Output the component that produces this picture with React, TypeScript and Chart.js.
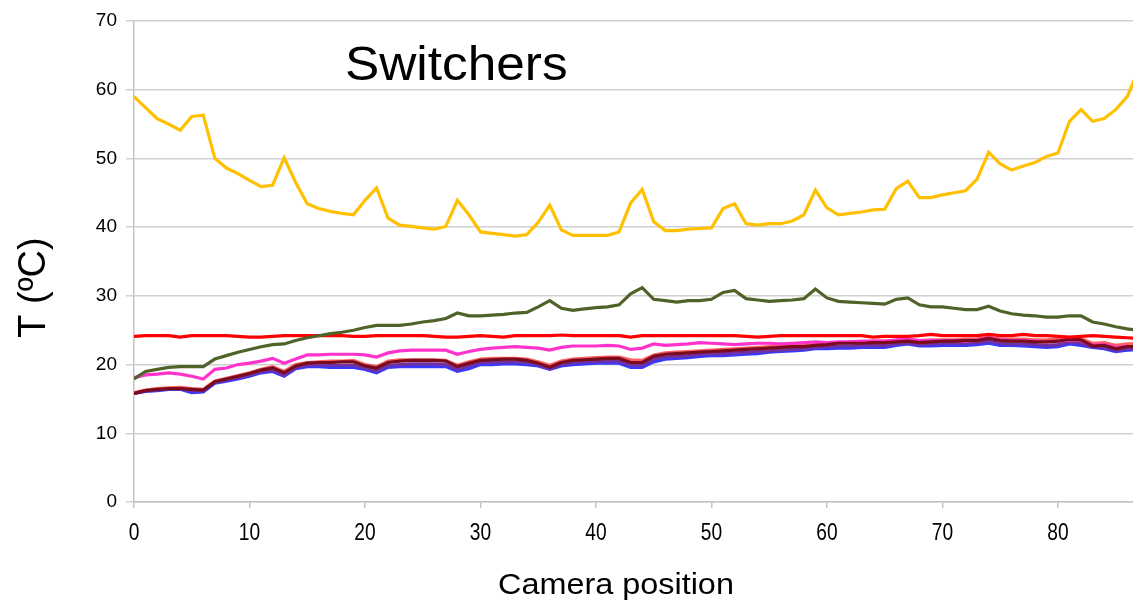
import React, { useEffect, useRef } from "react";
import { Chart, registerables } from "chart.js";

Chart.register(...registerables);

const POSITIONS = [
  0, 1, 2, 3, 4, 5, 6, 7, 8, 9, 10, 11, 12, 13, 14, 15, 16, 17, 18, 19,
  20, 21, 22, 23, 24, 25, 26, 27, 28, 29, 30, 31, 32, 33, 34, 35, 36, 37, 38, 39,
  40, 41, 42, 43, 44, 45, 46, 47, 48, 49, 50, 51, 52, 53, 54, 55, 56, 57, 58, 59,
  60, 61, 62, 63, 64, 65, 66, 67, 68, 69, 70, 71, 72, 73, 74, 75, 76, 77, 78, 79,
  80, 81, 82, 83, 84, 85, 86, 87,
];

const X_TICKS = [0, 10, 20, 30, 40, 50, 60, 70, 80];
const Y_TICKS = [0, 10, 20, 30, 40, 50, 60, 70];

const YELLOW = [
  59.0, 57.4, 55.8, 55.0, 54.1, 56.1, 56.3, 50.0, 48.6, 47.8,
  46.8, 45.9, 46.1, 50.1, 46.5, 43.4, 42.7, 42.3, 42.0, 41.8,
  43.9, 45.7, 41.3, 40.3, 40.1, 39.9, 39.7, 40.1, 43.9, 41.8,
  39.3, 39.1, 38.9, 38.7, 38.9, 40.7, 43.2, 39.6, 38.8, 38.8,
  38.8, 38.8, 39.3, 43.5, 45.5, 40.8, 39.5, 39.5, 39.7, 39.8,
  39.9, 42.7, 43.4, 40.5, 40.3, 40.5, 40.5, 40.9, 41.8, 45.4,
  42.8, 41.8, 42.0, 42.2, 42.5, 42.6, 45.6, 46.7, 44.3, 44.3,
  44.7, 45.0, 45.3, 47.0, 50.9, 49.2, 48.3, 48.9, 49.4, 50.3,
  50.8, 55.4, 57.1, 55.4, 55.8, 57.1, 59.0, 63.0,
];

const GREEN = [
  17.9, 19.0, 19.3, 19.6, 19.7, 19.7, 19.7, 20.8, 21.3, 21.8,
  22.2, 22.6, 22.9, 23.0, 23.5, 23.9, 24.2, 24.5, 24.7, 25.0,
  25.4, 25.7, 25.7, 25.7, 25.9, 26.2, 26.4, 26.7, 27.5, 27.1,
  27.1, 27.2, 27.3, 27.5, 27.6, 28.4, 29.3, 28.2, 27.9, 28.1,
  28.3, 28.4, 28.7, 30.3, 31.2, 29.5, 29.3, 29.1, 29.3, 29.3,
  29.5, 30.5, 30.8, 29.6, 29.4, 29.2, 29.3, 29.4, 29.6, 31.0,
  29.7, 29.2, 29.1, 29.0, 28.9, 28.8, 29.5, 29.7, 28.7, 28.4,
  28.4, 28.2, 28.0, 28.0, 28.5, 27.8, 27.4, 27.2, 27.1, 26.9,
  26.9, 27.1, 27.1, 26.2, 25.9, 25.5, 25.2, 25.0,
];

const RED = [
  24.1, 24.2, 24.2, 24.2, 24.0, 24.2, 24.2, 24.2, 24.2, 24.1,
  24.0, 24.0, 24.1, 24.2, 24.2, 24.2, 24.2, 24.2, 24.2, 24.1,
  24.1, 24.2, 24.2, 24.2, 24.2, 24.2, 24.1, 24.0, 24.0, 24.1,
  24.2, 24.1, 24.0, 24.2, 24.2, 24.2, 24.2, 24.3, 24.2, 24.2,
  24.2, 24.2, 24.2, 24.0, 24.2, 24.2, 24.2, 24.2, 24.2, 24.2,
  24.2, 24.2, 24.2, 24.1, 24.0, 24.1, 24.2, 24.2, 24.2, 24.2,
  24.2, 24.2, 24.2, 24.2, 24.0, 24.1, 24.1, 24.1, 24.2, 24.4,
  24.2, 24.2, 24.2, 24.2, 24.4, 24.2, 24.2, 24.4, 24.2, 24.2,
  24.1, 24.0, 24.1, 24.2, 24.1, 24.0, 23.9, 23.8,
];

const MAGENTA = [
  18.1, 18.5, 18.6, 18.8, 18.6, 18.3, 17.9, 19.3, 19.5, 20.0,
  20.2, 20.5, 20.9, 20.2, 20.8, 21.4, 21.4, 21.5, 21.5, 21.5,
  21.4, 21.1, 21.7, 22.0, 22.1, 22.1, 22.1, 22.1, 21.5, 21.9,
  22.2, 22.4, 22.5, 22.6, 22.5, 22.4, 22.1, 22.5, 22.7, 22.7,
  22.7, 22.8, 22.7, 22.2, 22.4, 23.0, 22.8, 22.9, 23.0, 23.2,
  23.1, 23.0, 22.9, 23.0, 23.1, 23.1, 23.0, 23.1, 23.2, 23.3,
  23.2, 23.3, 23.3, 23.4, 23.4, 23.4, 23.6, 23.7, 23.5, 23.5,
  23.5, 23.5, 23.4, 23.6, 23.9, 23.6, 23.5, 23.5, 23.4, 23.3,
  23.4, 23.6, 23.5, 22.8, 22.9, 22.5, 22.6, 22.6,
];

const MAROON = [
  15.8, 16.2, 16.4, 16.5, 16.5, 16.4, 16.3, 17.5, 17.9, 18.3,
  18.7, 19.2, 19.5, 18.8, 19.8, 20.2, 20.3, 20.3, 20.4, 20.4,
  19.8, 19.5, 20.3, 20.5, 20.6, 20.6, 20.6, 20.5, 19.7, 20.2,
  20.6, 20.7, 20.8, 20.8, 20.6, 20.2, 19.6, 20.3, 20.6, 20.7,
  20.8, 20.9, 20.9, 20.3, 20.3, 21.2, 21.5, 21.6, 21.7, 21.8,
  21.9, 22.0, 22.1, 22.2, 22.3, 22.4, 22.5, 22.6, 22.6, 22.8,
  22.9, 23.1, 23.1, 23.1, 23.2, 23.2, 23.3, 23.4, 23.2, 23.3,
  23.4, 23.4, 23.5, 23.5, 23.8, 23.5, 23.4, 23.4, 23.3, 23.3,
  23.4, 23.7, 23.6, 22.7, 22.8, 22.3, 22.6, 22.6,
];

const SALMON = [
  15.9, 16.3, 16.5, 16.6, 16.7, 16.5, 16.4, 17.6, 18.0, 18.4,
  18.8, 19.3, 19.7, 19.0, 20.0, 20.3, 20.4, 20.5, 20.5, 20.6,
  20.0, 19.7, 20.5, 20.7, 20.7, 20.7, 20.7, 20.6, 19.9, 20.4,
  20.8, 20.9, 20.9, 20.9, 20.8, 20.4, 19.9, 20.5, 20.8, 20.9,
  21.0, 21.1, 21.1, 20.7, 20.6, 21.4, 21.7, 21.8, 21.9, 22.0,
  22.1, 22.2, 22.3, 22.4, 22.5, 22.6, 22.7, 22.8, 22.8, 23.0,
  23.1, 23.2, 23.3, 23.3, 23.4, 23.4, 23.5, 23.6, 23.5, 23.6,
  23.6, 23.6, 23.7, 23.7, 24.0, 23.7, 23.7, 23.7, 23.6, 23.6,
  23.7, 23.9, 23.8, 23.1, 23.2, 22.8, 23.0, 23.0,
];

const PURPLE = [
  15.8, 16.2, 16.3, 16.5, 16.5, 16.2, 16.2, 17.4, 17.8, 18.1,
  18.5, 19.0, 19.2, 18.5, 19.6, 19.9, 20.0, 19.9, 19.9, 19.9,
  19.5, 19.1, 19.9, 20.0, 20.1, 20.1, 20.1, 20.0, 19.3, 19.8,
  20.3, 20.3, 20.4, 20.4, 20.3, 20.0, 19.4, 20.0, 20.3, 20.4,
  20.5, 20.5, 20.5, 19.9, 19.9, 20.8, 21.1, 21.2, 21.3, 21.5,
  21.6, 21.6, 21.7, 21.8, 21.9, 22.0, 22.1, 22.2, 22.3, 22.5,
  22.6, 22.7, 22.7, 22.8, 22.8, 22.8, 23.0, 23.2, 22.9, 23.0,
  23.1, 23.1, 23.1, 23.2, 23.4, 23.1, 23.0, 23.0, 22.9, 22.8,
  22.9, 23.3, 23.1, 22.6, 22.5, 22.1, 22.3, 22.4,
];

const BLUE = [
  15.8, 16.1, 16.2, 16.4, 16.4, 15.9, 16.0, 17.3, 17.6, 17.9,
  18.3, 18.8, 19.0, 18.3, 19.4, 19.7, 19.7, 19.6, 19.6, 19.6,
  19.3, 18.8, 19.6, 19.7, 19.7, 19.7, 19.7, 19.7, 19.0, 19.4,
  20.0, 20.0, 20.1, 20.1, 20.0, 19.8, 19.3, 19.8, 20.0, 20.1,
  20.2, 20.2, 20.2, 19.6, 19.6, 20.4, 20.8, 20.9, 21.0, 21.2,
  21.3, 21.3, 21.4, 21.5, 21.6, 21.8, 21.9, 22.0, 22.1, 22.3,
  22.3, 22.4, 22.4, 22.5, 22.5, 22.5, 22.8, 23.0, 22.7, 22.7,
  22.8, 22.8, 22.8, 22.9, 23.1, 22.8, 22.8, 22.7, 22.6, 22.5,
  22.6, 23.0, 22.8, 22.5, 22.3, 21.9, 22.1, 22.2,
];

const CHART_TITLE = "Switchers";
const Y_TITLE = "T (ºC)";
const X_TITLE = "Camera position";

const toPoints = (vals: number[]) => vals.map((v, i) => ({ x: POSITIONS[i], y: v }));

const textPlugin = {
  id: "texts",
  afterDraw(chart: any) {
    const ctx = chart.ctx as CanvasRenderingContext2D;
    ctx.save();
    ctx.fillStyle = "#000";
    ctx.textBaseline = "alphabetic";
    ctx.textAlign = "left";
    // Title inside plot
    ctx.save();
    ctx.translate(345, 80);
    ctx.scale(1.07, 1);
    ctx.font = '48px "Liberation Sans", Arial, sans-serif';
    ctx.fillText(CHART_TITLE, 0, 0);
    ctx.restore();
    // X title
    ctx.save();
    ctx.translate(498, 594);
    ctx.scale(1.08, 1);
    ctx.font = '30px "Liberation Sans", Arial, sans-serif';
    ctx.fillText(X_TITLE, 0, 0);
    ctx.restore();
    // Y title
    ctx.save();
    ctx.translate(45, 287.5);
    ctx.rotate(-Math.PI / 2);
    ctx.textAlign = "center";
    ctx.font = '38px "Liberation Sans", Arial, sans-serif';
    ctx.fillText(Y_TITLE, 0, 0);
    ctx.restore();
    // X tick labels (condensed)
    const xs = chart.scales.x;
    ctx.font = '24px "Liberation Sans", Arial, sans-serif';
    ctx.textAlign = "center";
    ctx.textBaseline = "alphabetic";
    X_TICKS.forEach((v) => {
      const px = xs.getPixelForValue(v);
      ctx.save();
      ctx.translate(px, 540);
      ctx.scale(0.8, 1);
      ctx.fillText(String(v), 0, 0);
      ctx.restore();
    });
    ctx.restore();
  },
};

export default function App() {
  const ref = useRef<HTMLCanvasElement | null>(null);

  useEffect(() => {
    document.body.style.margin = "0";
    const canvas = ref.current;
    if (!canvas) return;
    const mk = (label: string, vals: number[], color: string, width = 3.2) => ({
      label,
      data: toPoints(vals),
      borderColor: color,
      backgroundColor: color,
      borderWidth: width,
      pointRadius: 0,
      tension: 0,
      fill: false,
    });
    const chart = new Chart(canvas, {
      type: "line",
      data: {
        datasets: [
          mk("Yellow", YELLOW, "#FFC000"),
          mk("Green", GREEN, "#4F6228"),
          mk("Red", RED, "#FF0000"),
          mk("Maroon", MAROON, "#7A0A1E"),
          mk("Magenta", MAGENTA, "#FF33CC"),
          mk("Salmon", SALMON, "rgba(255,80,80,0.9)"),
          mk("Purple", PURPLE, "#7030A0"),
          mk("Blue", BLUE, "#3838FF"),
        ],
      },
      options: {
        animation: false,
        responsive: false,
        maintainAspectRatio: false,
        layout: { padding: { top: 21, right: 0, left: 0, bottom: 0 } },
        plugins: {
          legend: { display: false },
          tooltip: { enabled: false },
          title: { display: false },
        },
        scales: {
          x: {
            type: "linear",
            min: 0,
            max: 86.5,
            afterFit: (s: any) => {
              s.height = 101;
            },
            afterBuildTicks: (s: any) => {
              s.ticks = X_TICKS.map((v) => ({ value: v }));
            },
            grid: {
              drawOnChartArea: false,
              drawTicks: true,
              tickLength: 6,
              color: "#c4c4c4",
              lineWidth: 1.5,
            },
            border: { color: "#c4c4c4", width: 1.5 },
            ticks: {
              padding: 12,
              color: "rgba(0,0,0,0)",
              maxRotation: 0,
              font: { family: '"Liberation Sans", Arial, sans-serif', size: 19 },
            },
          },
          y: {
            min: 0,
            max: 70,
            afterFit: (s: any) => {
              s.width = 134;
            },
            afterBuildTicks: (s: any) => {
              s.ticks = Y_TICKS.map((v) => ({ value: v }));
            },
            grid: {
              color: "#d0d0d0",
              lineWidth: 1.5,
              drawTicks: true,
              tickLength: 8,
            },
            border: { color: "#c4c4c4", width: 1.5 },
            ticks: {
              padding: 9,
              color: "#000",
              font: { family: '"Liberation Sans", Arial, sans-serif', size: 19 },
            },
          },
        },
      },
      plugins: [textPlugin],
    });
    return () => chart.destroy();
  }, []);

  return (
    <div style={{ position: "absolute", left: 0, top: 0, width: 1133, height: 603, background: "#fff" }}>
      <canvas ref={ref} width={1133} height={603} />
    </div>
  );
}
